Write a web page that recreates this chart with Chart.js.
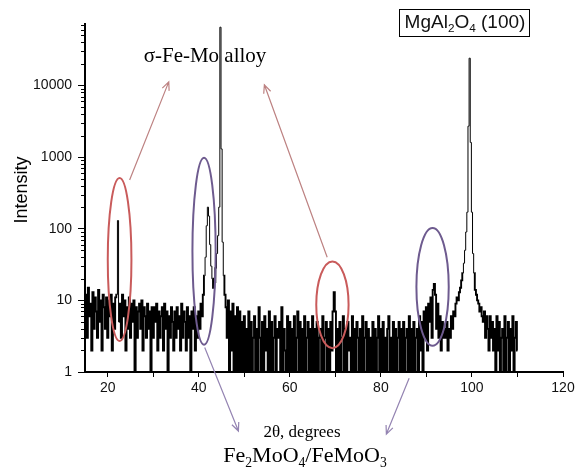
<!DOCTYPE html>
<html>
<head>
<meta charset="utf-8">
<script src="https://cdn.jsdelivr.net/npm/chart.js@4"></script>
<style>
  html, body { margin: 0; padding: 0; background: #fff; }
</style>
</head>
<body>
<canvas id="xrd" width="582" height="468"></canvas>
<script>
// scan grid: 2-theta from 15 to 110 deg, 0.25 deg per reading
const scanStart = 15;
const scanStep = 0.25;

// counts, 20 readings (5 deg) per row
const intensity = [
  5, 12, 3, 15, 6, 9, 2, 13, 4, 11, 7, 3, 14, 5, 10, 2, 12, 8, 4, 11,          // 15
  3, 10, 6, 12, 2, 9, 4, 11, 12, 130, 5, 9, 3, 12, 6, 10, 2, 8, 4, 11,         // 20
  3, 9, 5, 10, 1, 8, 3, 7, 9, 4, 10, 2, 8, 6, 3, 9, 4, 7, 1, 8,                // 25
  3, 8, 5, 9, 2, 7, 3, 6, 8, 2, 9, 4, 7, 1, 6, 3, 8, 5, 2, 7,                  // 30
  3, 8, 4, 6, 2, 9, 3, 7, 5, 2, 8, 3, 6, 1, 7, 4, 8, 2, 6, 3,                  // 35
  7, 4, 9, 6, 12, 22, 40, 110, 200, 150, 60, 30, 20, 15, 18, 28, 45, 80, 200, 65000, // 40
  1300, 65, 22, 12, 8, 3, 10, 1, 7, 2, 9, 1, 6, 1, 8, 1, 7, 1, 5, 1,           // 45
  6, 1, 4, 1, 7, 1, 5, 1, 3, 6, 1, 4, 1, 8, 3, 1, 5, 1, 6, 2,                  // 50
  4, 1, 7, 1, 5, 1, 3, 6, 1, 4, 3, 5, 1, 8, 1, 4, 2, 1, 6, 1,                  // 55
  5, 1, 4, 1, 6, 1, 3, 7, 1, 5, 1, 4, 1, 6, 1, 3, 5, 1, 4, 1,                  // 60
  6, 1, 4, 1, 5, 1, 3, 4, 1, 6, 1, 3, 5, 1, 4, 1, 5, 2, 7, 13,                 // 65
  7, 1, 4, 1, 5, 1, 3, 6, 1, 4, 1, 5, 2, 3, 1, 6, 1, 4, 1, 5,                  // 70
  3, 1, 4, 1, 6, 1, 3, 5, 1, 4, 1, 3, 1, 5, 1, 4, 1, 3, 6, 1,                  // 75
  4, 1, 5, 1, 3, 1, 4, 6, 1, 3, 1, 5, 1, 4, 1, 3, 5, 1, 4, 1,                  // 80
  5, 1, 3, 4, 1, 6, 1, 4, 1, 5, 1, 3, 4, 1, 6, 2, 5, 1, 7, 3,                  // 85
  8, 2, 9, 5, 11, 3, 14, 17, 12, 4, 9, 3, 6, 2, 5, 3, 4, 3, 5, 2,              // 90
  4, 3, 6, 4, 7, 6, 9, 11, 10, 13, 15, 19, 24, 33, 50, 90, 170, 2700, 24000, 1600, // 95
  170, 45, 24, 14, 12, 10, 9, 7, 8, 6, 5, 7, 3, 6, 4, 2, 6, 3, 5, 2,           // 100
  4, 1, 6, 2, 5, 1, 3, 4, 1, 6, 1, 3, 5, 1, 4, 2, 6, 1, 3, 5,                  // 105
  2                                                                            // 110
];

const xTicks = [20, 30, 40, 50, 60, 70, 80, 90, 100, 110, 120];
const xLabels = [20, 40, 60, 80, 100, 120];
const yTicks = [1, 10, 100, 1000, 10000];

// phase markers: [left deg, right deg, low count, high count]
const redRings = [[20.0, 25.2, 2.7, 510], [65.8, 72.9, 2.15, 35]];
const blueRings = [[38.6, 43.7, 2.4, 975], [87.8, 94.9, 2.33, 102]];
// pointers: [from deg, from count, to deg, to count]
const redArrows = [[24.8, 480, 33.4, 11200], [68.2, 40, 54.4, 10200]];
const blueArrows = [[41.3, 2.2, 48.7, 0.15], [86.2, 0.82, 81.2, 0.136]];

const points = intensity.map((v, i) => ({ x: scanStart + i * scanStep, y: v }));

const SANS = '"Liberation Sans", Arial, sans-serif';
const SERIF = '"Liberation Serif", "Times New Roman", serif';

function richText(ctx, parts, cx, baseline, size, family) {
  let w = 0;
  parts.forEach(p => {
    ctx.font = (p.sub ? size * 0.62 : size) + 'px ' + family;
    w += ctx.measureText(p.t).width;
  });
  let x = cx - w / 2;
  ctx.textAlign = 'left';
  ctx.textBaseline = 'alphabetic';
  parts.forEach(p => {
    ctx.font = (p.sub ? size * 0.62 : size) + 'px ' + family;
    ctx.fillText(p.t, x, p.sub ? baseline + size * 0.22 : baseline);
    x += ctx.measureText(p.t).width;
  });
  return w;
}

function arrow(ctx, x1, y1, x2, y2) {
  const a = Math.atan2(y2 - y1, x2 - x1);
  const h = 9, s = 0.42;
  ctx.beginPath();
  ctx.moveTo(x1, y1);
  ctx.lineTo(x2, y2);
  ctx.moveTo(x2 - h * Math.cos(a - s), y2 - h * Math.sin(a - s));
  ctx.lineTo(x2, y2);
  ctx.lineTo(x2 - h * Math.cos(a + s), y2 - h * Math.sin(a + s));
  ctx.stroke();
}

const minorTicks = {
  id: 'minorTicks',
  afterDraw(chart) {
    const { ctx, scales: { y } } = chart;
    ctx.save();
    ctx.strokeStyle = '#000';
    ctx.lineWidth = 1;
    for (let d = 1; d <= 10000; d *= 10) {
      for (let m = 2; m <= 9; m++) {
        const v = m * d;
        if (v > y.max) break;
        const py = Math.round(y.getPixelForValue(v)) + 0.5;
        ctx.beginPath();
        ctx.moveTo(y.right - 4, py);
        ctx.lineTo(y.right, py);
        ctx.stroke();
      }
    }
    ctx.restore();
  }
};

const notes = {
  id: 'notes',
  afterDraw(chart) {
    const { ctx, scales: { x, y } } = chart;
    ctx.save();

    const ring = (r, color) => {
      const l = x.getPixelForValue(r[0]), rr = x.getPixelForValue(r[1]);
      const b = y.getPixelForValue(r[2]), t = y.getPixelForValue(r[3]);
      ctx.strokeStyle = color;
      ctx.lineWidth = 2;
      ctx.beginPath();
      ctx.ellipse((l + rr) / 2, (t + b) / 2, (rr - l) / 2, (b - t) / 2, 0, 0, Math.PI * 2);
      ctx.stroke();
    };
    redRings.forEach(r => ring(r, '#c95b5b'));
    blueRings.forEach(r => ring(r, '#6e5b8f'));

    ctx.lineWidth = 1.2;
    ctx.strokeStyle = '#bd8282';
    redArrows.forEach(a => arrow(ctx, x.getPixelForValue(a[0]), y.getPixelForValue(a[1]),
      x.getPixelForValue(a[2]), y.getPixelForValue(a[3])));
    ctx.strokeStyle = '#9484b2';
    blueArrows.forEach(a => arrow(ctx, x.getPixelForValue(a[0]), y.getPixelForValue(a[1]),
      x.getPixelForValue(a[2]), y.getPixelForValue(a[3])));

    ctx.fillStyle = '#000';
    ctx.font = '21px ' + SERIF;
    ctx.textAlign = 'center';
    ctx.textBaseline = 'alphabetic';
    ctx.fillText('σ-Fe-Mo alloy', 205, 62);

    // MgAl2O4 label in a box
    ctx.strokeStyle = '#000';
    ctx.lineWidth = 1;
    ctx.strokeRect(399.5, 9.5, 130, 27);
    ctx.fillStyle = '#111';
    richText(ctx, [{ t: 'MgAl' }, { t: '2', sub: true }, { t: 'O' }, { t: '4', sub: true }, { t: ' (100)' }],
      465, 28, 19, SANS);

    ctx.fillStyle = '#000';
    ctx.font = '17px ' + SERIF;
    ctx.textAlign = 'center';
    ctx.fillText('2θ, degrees', 302, 437);
    richText(ctx, [{ t: 'Fe' }, { t: '2', sub: true }, { t: 'MoO' }, { t: '4', sub: true }, { t: '/FeMoO' }, { t: '3', sub: true }],
      305, 462, 22, SERIF);

    ctx.translate(22, 190);
    ctx.rotate(-Math.PI / 2);
    ctx.font = '18px ' + SANS;
    ctx.textAlign = 'center';
    ctx.textBaseline = 'middle';
    ctx.fillText('Intensity', 0, 0);
    ctx.restore();
  }
};

new Chart(document.getElementById('xrd'), {
  type: 'line',
  data: {
    datasets: [{
      data: points,
      borderColor: '#000',
      borderWidth: 1,
      pointRadius: 0,
      stepped: 'middle',
      fill: false,
      // noise floor drawn heavier so it reads as a dense band, peaks stay thin
      segment: {
        borderWidth: c => Math.max(c.p0.parsed.y, c.p1.parsed.y) < 30 ? 1.9 : 1
      }
    }]
  },
  options: {
    responsive: false,
    animation: false,
    events: [],
    layout: { padding: { left: 0, top: 24, right: 19, bottom: 0 } },
    plugins: { legend: { display: false }, tooltip: { enabled: false } },
    scales: {
      x: {
        type: 'linear',
        min: 15,
        max: 120,
        afterBuildTicks: s => { s.ticks = xTicks.map(v => ({ value: v })); },
        afterFit: s => { s.height = 96; },
        ticks: {
          autoSkip: false,
          maxRotation: 0,
          padding: 3,
          color: '#111',
          font: { family: SANS, size: 14 },
          callback: v => xLabels.includes(v) ? String(v) : ''
        },
        grid: { drawOnChartArea: false, tickLength: 5, tickColor: '#000' },
        border: { color: '#000', width: 2 }
      },
      y: {
        type: 'logarithmic',
        min: 1,
        max: 72000,
        afterBuildTicks: s => { s.ticks = yTicks.map(v => ({ value: v })); },
        afterFit: s => { s.width = 85; },
        ticks: {
          padding: 6,
          color: '#111',
          font: { family: SANS, size: 14 },
          callback: v => String(v)
        },
        grid: { drawOnChartArea: false, tickLength: 7, tickColor: '#000' },
        border: { color: '#000', width: 2 }
      }
    }
  },
  plugins: [minorTicks, notes]
});
</script>
</body>
</html>
